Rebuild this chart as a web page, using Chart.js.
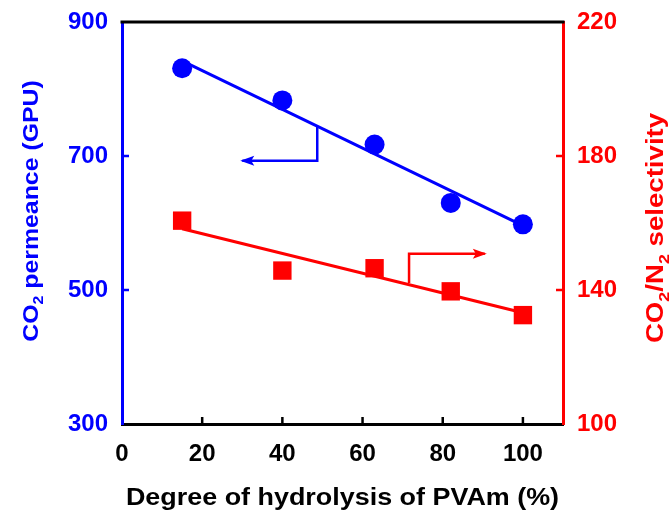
<!DOCTYPE html>
<html>
<head>
<meta charset="utf-8">
<script src="https://cdn.jsdelivr.net/npm/chart.js@4.4.1/dist/chart.umd.min.js"></script>
<style>
  html, body { margin: 0; padding: 0; background: #fff; }
</style>
</head>
<body>
<canvas id="permChart" width="670" height="516"></canvas>
<script>
// ---- data ----
const hydrolysis = [15, 40, 63, 82, 100];               // degree of hydrolysis (%)
const permeance = [831, 783, 717, 630, 598];             // CO2 permeance (GPU)
const selectivity = [160.7, 145.8, 146.5, 139.6, 132.5]; // CO2/N2 selectivity

// linear fit end points
const trendX = [15, 100];
const permeanceTrend = [842, 596];
const selectivityTrend = [158.3, 133.2];

// tick values
const xTicks = [0, 20, 40, 60, 80, 100];
const permTicks = [300, 500, 700, 900];
const selTicks = [100, 140, 180, 220];

// arrows telling which axis each series belongs to
const permArrowX = [48.7, 48.7, 30];
const permArrowY = [744, 693, 693];
const selArrowX = [71.6, 71.6, 90.5];
const selArrowY = [142.1, 150.8, 150.8];

// axis titles, split into normal / subscript pieces
const permTitle = [{ t: 'CO' }, { t: '2', sub: true }, { t: ' permeance (GPU)' }];
const selTitle = [{ t: 'CO' }, { t: '2', sub: true }, { t: '/N' }, { t: '2', sub: true }, { t: ' selectivity' }];
const xTitle = [{ t: 'Degree of hydrolysis of PVAm (%)' }];

const FONT = '"Liberation Sans", Arial, sans-serif';
const BLUE = 'rgb(0,0,255)';
const RED = 'rgb(255,0,0)';

function pts(xs, ys) {
    return xs.map((x, i) => ({ x: x, y: ys[i] }));
}

function drawTitle(ctx, parts, cx, cy, angle, size, color, stretch) {
    ctx.save();
    ctx.translate(cx, cy);
    ctx.rotate(angle);
    ctx.scale(stretch, 1);
    ctx.fillStyle = color;
    ctx.textBaseline = 'middle';
    ctx.textAlign = 'left';
    const subSize = Math.round(size * 0.65);
    let total = 0;
    parts.forEach(p => {
        ctx.font = 'bold ' + (p.sub ? subSize : size) + 'px ' + FONT;
        p.w = ctx.measureText(p.t).width;
        total += p.w;
    });
    let x = -total / 2;
    parts.forEach(p => {
        ctx.font = 'bold ' + (p.sub ? subSize : size) + 'px ' + FONT;
        ctx.fillText(p.t, x, p.sub ? size * 0.32 : 0);
        x += p.w;
    });
    ctx.restore();
}

function drawArrow(ctx, xs, ys, xScale, yScale, color) {
    const p = xs.map((x, i) => [xScale.getPixelForValue(x), yScale.getPixelForValue(ys[i])]);
    ctx.save();
    ctx.strokeStyle = color;
    ctx.fillStyle = color;
    ctx.lineWidth = 2.5;
    ctx.beginPath();
    ctx.moveTo(p[0][0], p[0][1]);
    for (let i = 1; i < p.length; i++) ctx.lineTo(p[i][0], p[i][1]);
    ctx.stroke();
    // head on the last segment
    const a = p[p.length - 2], b = p[p.length - 1];
    const ang = Math.atan2(b[1] - a[1], b[0] - a[0]);
    const len = 12, half = 5;
    ctx.translate(b[0], b[1]);
    ctx.rotate(ang);
    ctx.beginPath();
    ctx.moveTo(2, 0);
    ctx.lineTo(-len, -half);
    ctx.lineTo(-len + 3, 0);
    ctx.lineTo(-len, half);
    ctx.closePath();
    ctx.fill();
    ctx.restore();
}

// frame top edge, inward ticks, arrows and titles
const decorations = {
    id: 'decorations',
    afterDatasetsDraw(chart) {
        const { ctx, chartArea: ca, scales } = chart;
        const x = scales.x, y = scales.y, y1 = scales.y1;
        ctx.save();
        ctx.lineWidth = 3;
        ctx.strokeStyle = '#000';
        ctx.beginPath();
        ctx.moveTo(ca.left - 1.5, ca.top);
        ctx.lineTo(ca.right + 1.5, ca.top);
        ctx.stroke();

        const tick = 7;
        ctx.lineWidth = 2.5;
        ctx.strokeStyle = '#000';
        xTicks.slice(1).forEach(v => {
            const px = x.getPixelForValue(v);
            ctx.beginPath(); ctx.moveTo(px, ca.bottom); ctx.lineTo(px, ca.bottom - tick); ctx.stroke();
        });
        ctx.strokeStyle = BLUE;
        permTicks.slice(1, -1).forEach(v => {
            const py = y.getPixelForValue(v);
            ctx.beginPath(); ctx.moveTo(ca.left, py); ctx.lineTo(ca.left + tick, py); ctx.stroke();
        });
        ctx.strokeStyle = RED;
        selTicks.slice(1, -1).forEach(v => {
            const py = y1.getPixelForValue(v);
            ctx.beginPath(); ctx.moveTo(ca.right, py); ctx.lineTo(ca.right - tick, py); ctx.stroke();
        });
        ctx.restore();

        drawArrow(ctx, permArrowX, permArrowY, x, y, BLUE);
        drawArrow(ctx, selArrowX, selArrowY, x, y1, RED);

        drawTitle(ctx, permTitle, 32, 211, -Math.PI / 2, 22, BLUE, 1.13);
        drawTitle(ctx, selTitle, 657, 228, -Math.PI / 2, 23, RED, 1.2);
        drawTitle(ctx, xTitle, (ca.left + ca.right) / 2, 499, 0, 23, '#000', 1.17);
    }
};

const tickFont = { family: FONT, size: 24, weight: 'bold' };

// keep the end labels from pushing the plot area inward
function noEndPadding(s) {
    s.paddingTop = 0;
    s.paddingBottom = 0;
}

new Chart(document.getElementById('permChart').getContext('2d'), {
    type: 'scatter',
    data: {
        datasets: [
            {
                data: pts(hydrolysis, permeance),
                yAxisID: 'y',
                pointStyle: 'circle',
                pointRadius: 10,
                backgroundColor: BLUE,
                borderColor: BLUE,
                borderWidth: 0,
                order: 1
            },
            {
                data: pts(trendX, permeanceTrend),
                yAxisID: 'y',
                showLine: true,
                pointRadius: 0,
                borderColor: BLUE,
                borderWidth: 3,
                order: 2
            },
            {
                data: pts(hydrolysis, selectivity),
                yAxisID: 'y1',
                pointStyle: 'rect',
                pointRadius: 13,
                backgroundColor: RED,
                borderColor: RED,
                borderWidth: 0,
                order: 1
            },
            {
                data: pts(trendX, selectivityTrend),
                yAxisID: 'y1',
                showLine: true,
                pointRadius: 0,
                borderColor: RED,
                borderWidth: 3,
                order: 2
            }
        ]
    },
    options: {
        responsive: false,
        animation: false,
        layout: { padding: { top: 22, left: 0, right: 0, bottom: 0 } },
        plugins: {
            legend: { display: false },
            tooltip: { enabled: false }
        },
        scales: {
            x: {
                type: 'linear',
                min: 0,
                max: 110,
                afterBuildTicks: s => { s.ticks = xTicks.map(v => ({ value: v })); },
                afterFit: s => { s.height = 92; },
                grid: { display: false, drawTicks: false },
                border: { color: '#000', width: 3 },
                ticks: { color: '#000', font: tickFont, padding: 16 }
            },
            y: {
                position: 'left',
                min: 300,
                max: 900,
                afterBuildTicks: s => { s.ticks = permTicks.map(v => ({ value: v })); },
                afterFit: s => { s.width = 122; noEndPadding(s); },
                grid: { display: false, drawTicks: false },
                border: { color: BLUE, width: 3 },
                ticks: { color: BLUE, font: tickFont, padding: 14 }
            },
            y1: {
                position: 'right',
                min: 100,
                max: 220,
                afterBuildTicks: s => { s.ticks = selTicks.map(v => ({ value: v })); },
                afterFit: s => { s.width = 107; noEndPadding(s); },
                grid: { display: false, drawTicks: false },
                border: { color: RED, width: 3 },
                ticks: { color: RED, font: tickFont, padding: 14 }
            }
        }
    },
    plugins: [decorations]
});
</script>
</body>
</html>
